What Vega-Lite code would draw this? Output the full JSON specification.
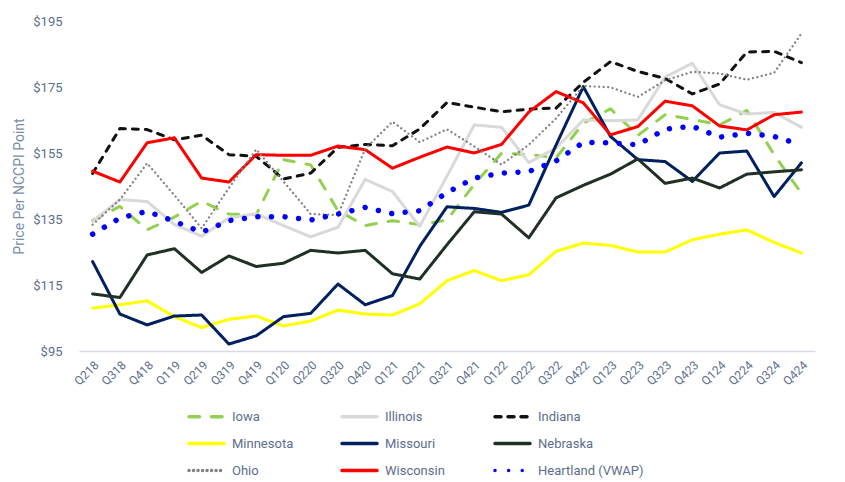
{
  "$schema": "https://vega.github.io/schema/vega-lite/v6.json",
  "width": 736,
  "height": 330,
  "autosize": {"type": "none"},
  "padding": {"left": 79, "top": 21, "right": 30, "bottom": 131},
  "background": "white",
  "config": {"view": {"stroke": null}, "font": "Roboto"},
  "data": {
    "values": [
      {"quarter": "Q218", "state": "Iowa", "price": 134.6},
      {"quarter": "Q318", "state": "Iowa", "price": 138.8},
      {"quarter": "Q418", "state": "Iowa", "price": 131.7},
      {"quarter": "Q119", "state": "Iowa", "price": 135.6},
      {"quarter": "Q219", "state": "Iowa", "price": 140.4},
      {"quarter": "Q319", "state": "Iowa", "price": 136.5},
      {"quarter": "Q419", "state": "Iowa", "price": 136.3},
      {"quarter": "Q120", "state": "Iowa", "price": 153},
      {"quarter": "Q220", "state": "Iowa", "price": 151.4},
      {"quarter": "Q320", "state": "Iowa", "price": 137.5},
      {"quarter": "Q420", "state": "Iowa", "price": 133},
      {"quarter": "Q121", "state": "Iowa", "price": 134.5},
      {"quarter": "Q221", "state": "Iowa", "price": 133.3},
      {"quarter": "Q321", "state": "Iowa", "price": 134.7},
      {"quarter": "Q421", "state": "Iowa", "price": 145.5},
      {"quarter": "Q122", "state": "Iowa", "price": 154.9},
      {"quarter": "Q222", "state": "Iowa", "price": 154.6},
      {"quarter": "Q322", "state": "Iowa", "price": 153.5},
      {"quarter": "Q422", "state": "Iowa", "price": 164},
      {"quarter": "Q123", "state": "Iowa", "price": 168.4},
      {"quarter": "Q223", "state": "Iowa", "price": 160.3},
      {"quarter": "Q323", "state": "Iowa", "price": 166.6},
      {"quarter": "Q423", "state": "Iowa", "price": 165.2},
      {"quarter": "Q124", "state": "Iowa", "price": 163.5},
      {"quarter": "Q224", "state": "Iowa", "price": 167.9},
      {"quarter": "Q324", "state": "Iowa", "price": 154.5},
      {"quarter": "Q424", "state": "Iowa", "price": 142.8},

      {"quarter": "Q218", "state": "Illinois", "price": 134.3},
      {"quarter": "Q318", "state": "Illinois", "price": 140.9},
      {"quarter": "Q418", "state": "Illinois", "price": 140.3},
      {"quarter": "Q119", "state": "Illinois", "price": 133.3},
      {"quarter": "Q219", "state": "Illinois", "price": 129.8},
      {"quarter": "Q319", "state": "Illinois", "price": 135.3},
      {"quarter": "Q419", "state": "Illinois", "price": 136.6},
      {"quarter": "Q120", "state": "Illinois", "price": 133},
      {"quarter": "Q220", "state": "Illinois", "price": 129.6},
      {"quarter": "Q320", "state": "Illinois", "price": 132.5},
      {"quarter": "Q420", "state": "Illinois", "price": 147},
      {"quarter": "Q121", "state": "Illinois", "price": 143.3},
      {"quarter": "Q221", "state": "Illinois", "price": 132.8},
      {"quarter": "Q321", "state": "Illinois", "price": 148},
      {"quarter": "Q421", "state": "Illinois", "price": 163.5},
      {"quarter": "Q122", "state": "Illinois", "price": 162.8},
      {"quarter": "Q222", "state": "Illinois", "price": 152.1},
      {"quarter": "Q322", "state": "Illinois", "price": 156.5},
      {"quarter": "Q422", "state": "Illinois", "price": 165},
      {"quarter": "Q123", "state": "Illinois", "price": 164.8},
      {"quarter": "Q223", "state": "Illinois", "price": 165},
      {"quarter": "Q323", "state": "Illinois", "price": 178},
      {"quarter": "Q423", "state": "Illinois", "price": 182.2},
      {"quarter": "Q124", "state": "Illinois", "price": 169.6},
      {"quarter": "Q224", "state": "Illinois", "price": 166.8},
      {"quarter": "Q324", "state": "Illinois", "price": 167.3},
      {"quarter": "Q424", "state": "Illinois", "price": 162.8},

      {"quarter": "Q218", "state": "Indiana", "price": 148.8},
      {"quarter": "Q318", "state": "Indiana", "price": 162.4},
      {"quarter": "Q418", "state": "Indiana", "price": 162.1},
      {"quarter": "Q119", "state": "Indiana", "price": 159},
      {"quarter": "Q219", "state": "Indiana", "price": 160.4},
      {"quarter": "Q319", "state": "Indiana", "price": 154.5},
      {"quarter": "Q419", "state": "Indiana", "price": 154},
      {"quarter": "Q120", "state": "Indiana", "price": 147.1},
      {"quarter": "Q220", "state": "Indiana", "price": 148.9},
      {"quarter": "Q320", "state": "Indiana", "price": 156.7},
      {"quarter": "Q420", "state": "Indiana", "price": 157.6},
      {"quarter": "Q121", "state": "Indiana", "price": 157.2},
      {"quarter": "Q221", "state": "Indiana", "price": 162.3},
      {"quarter": "Q321", "state": "Indiana", "price": 170.3},
      {"quarter": "Q421", "state": "Indiana", "price": 168.9},
      {"quarter": "Q122", "state": "Indiana", "price": 167.5},
      {"quarter": "Q222", "state": "Indiana", "price": 168.3},
      {"quarter": "Q322", "state": "Indiana", "price": 168.6},
      {"quarter": "Q422", "state": "Indiana", "price": 176.4},
      {"quarter": "Q123", "state": "Indiana", "price": 182.7},
      {"quarter": "Q223", "state": "Indiana", "price": 179.7},
      {"quarter": "Q323", "state": "Indiana", "price": 177.6},
      {"quarter": "Q423", "state": "Indiana", "price": 172.9},
      {"quarter": "Q124", "state": "Indiana", "price": 175.9},
      {"quarter": "Q224", "state": "Indiana", "price": 185.6},
      {"quarter": "Q324", "state": "Indiana", "price": 185.8},
      {"quarter": "Q424", "state": "Indiana", "price": 182.4},

      {"quarter": "Q218", "state": "Minnesota", "price": 108},
      {"quarter": "Q318", "state": "Minnesota", "price": 109},
      {"quarter": "Q418", "state": "Minnesota", "price": 110.2},
      {"quarter": "Q119", "state": "Minnesota", "price": 105.4},
      {"quarter": "Q219", "state": "Minnesota", "price": 102.1},
      {"quarter": "Q319", "state": "Minnesota", "price": 104.6},
      {"quarter": "Q419", "state": "Minnesota", "price": 105.6},
      {"quarter": "Q120", "state": "Minnesota", "price": 102.6},
      {"quarter": "Q220", "state": "Minnesota", "price": 104.1},
      {"quarter": "Q320", "state": "Minnesota", "price": 107.4},
      {"quarter": "Q420", "state": "Minnesota", "price": 106.2},
      {"quarter": "Q121", "state": "Minnesota", "price": 105.9},
      {"quarter": "Q221", "state": "Minnesota", "price": 109.3},
      {"quarter": "Q321", "state": "Minnesota", "price": 116.3},
      {"quarter": "Q421", "state": "Minnesota", "price": 119.4},
      {"quarter": "Q122", "state": "Minnesota", "price": 116.3},
      {"quarter": "Q222", "state": "Minnesota", "price": 118.1},
      {"quarter": "Q322", "state": "Minnesota", "price": 125.2},
      {"quarter": "Q422", "state": "Minnesota", "price": 127.7},
      {"quarter": "Q123", "state": "Minnesota", "price": 127},
      {"quarter": "Q223", "state": "Minnesota", "price": 125},
      {"quarter": "Q323", "state": "Minnesota", "price": 125},
      {"quarter": "Q423", "state": "Minnesota", "price": 128.7},
      {"quarter": "Q124", "state": "Minnesota", "price": 130.4},
      {"quarter": "Q224", "state": "Minnesota", "price": 131.7},
      {"quarter": "Q324", "state": "Minnesota", "price": 127.9},
      {"quarter": "Q424", "state": "Minnesota", "price": 124.7},

      {"quarter": "Q218", "state": "Missouri", "price": 122.1},
      {"quarter": "Q318", "state": "Missouri", "price": 106.2},
      {"quarter": "Q418", "state": "Missouri", "price": 102.9},
      {"quarter": "Q119", "state": "Missouri", "price": 105.6},
      {"quarter": "Q219", "state": "Missouri", "price": 105.9},
      {"quarter": "Q319", "state": "Missouri", "price": 97.1},
      {"quarter": "Q419", "state": "Missouri", "price": 99.6},
      {"quarter": "Q120", "state": "Missouri", "price": 105.4},
      {"quarter": "Q220", "state": "Missouri", "price": 106.4},
      {"quarter": "Q320", "state": "Missouri", "price": 115.3},
      {"quarter": "Q420", "state": "Missouri", "price": 109},
      {"quarter": "Q121", "state": "Missouri", "price": 111.8},
      {"quarter": "Q221", "state": "Missouri", "price": 126.7},
      {"quarter": "Q321", "state": "Missouri", "price": 138.7},
      {"quarter": "Q421", "state": "Missouri", "price": 138.2},
      {"quarter": "Q122", "state": "Missouri", "price": 137},
      {"quarter": "Q222", "state": "Missouri", "price": 139.2},
      {"quarter": "Q322", "state": "Missouri", "price": 157.4},
      {"quarter": "Q422", "state": "Missouri", "price": 175.1},
      {"quarter": "Q123", "state": "Missouri", "price": 160},
      {"quarter": "Q223", "state": "Missouri", "price": 153},
      {"quarter": "Q323", "state": "Missouri", "price": 152.4},
      {"quarter": "Q423", "state": "Missouri", "price": 146.4},
      {"quarter": "Q124", "state": "Missouri", "price": 155},
      {"quarter": "Q224", "state": "Missouri", "price": 155.6},
      {"quarter": "Q324", "state": "Missouri", "price": 141.8},
      {"quarter": "Q424", "state": "Missouri", "price": 152},

      {"quarter": "Q218", "state": "Nebraska", "price": 112.3},
      {"quarter": "Q318", "state": "Nebraska", "price": 111.2},
      {"quarter": "Q418", "state": "Nebraska", "price": 124.1},
      {"quarter": "Q119", "state": "Nebraska", "price": 126},
      {"quarter": "Q219", "state": "Nebraska", "price": 118.8},
      {"quarter": "Q319", "state": "Nebraska", "price": 123.8},
      {"quarter": "Q419", "state": "Nebraska", "price": 120.6},
      {"quarter": "Q120", "state": "Nebraska", "price": 121.6},
      {"quarter": "Q220", "state": "Nebraska", "price": 125.5},
      {"quarter": "Q320", "state": "Nebraska", "price": 124.7},
      {"quarter": "Q420", "state": "Nebraska", "price": 125.5},
      {"quarter": "Q121", "state": "Nebraska", "price": 118.4},
      {"quarter": "Q221", "state": "Nebraska", "price": 116.8},
      {"quarter": "Q321", "state": "Nebraska", "price": 127.2},
      {"quarter": "Q421", "state": "Nebraska", "price": 137.2},
      {"quarter": "Q122", "state": "Nebraska", "price": 136.5},
      {"quarter": "Q222", "state": "Nebraska", "price": 129.3},
      {"quarter": "Q322", "state": "Nebraska", "price": 141.4},
      {"quarter": "Q422", "state": "Nebraska", "price": 145.2},
      {"quarter": "Q123", "state": "Nebraska", "price": 148.6},
      {"quarter": "Q223", "state": "Nebraska", "price": 153.2},
      {"quarter": "Q323", "state": "Nebraska", "price": 145.8},
      {"quarter": "Q423", "state": "Nebraska", "price": 147.4},
      {"quarter": "Q124", "state": "Nebraska", "price": 144.4},
      {"quarter": "Q224", "state": "Nebraska", "price": 148.6},
      {"quarter": "Q324", "state": "Nebraska", "price": 149.3},
      {"quarter": "Q424", "state": "Nebraska", "price": 149.9},

      {"quarter": "Q218", "state": "Ohio", "price": 133.3},
      {"quarter": "Q318", "state": "Ohio", "price": 140.9},
      {"quarter": "Q418", "state": "Ohio", "price": 151.9},
      {"quarter": "Q119", "state": "Ohio", "price": 142.2},
      {"quarter": "Q219", "state": "Ohio", "price": 132.2},
      {"quarter": "Q319", "state": "Ohio", "price": 144.4},
      {"quarter": "Q419", "state": "Ohio", "price": 156.1},
      {"quarter": "Q120", "state": "Ohio", "price": 146.4},
      {"quarter": "Q220", "state": "Ohio", "price": 136.5},
      {"quarter": "Q320", "state": "Ohio", "price": 136.2},
      {"quarter": "Q420", "state": "Ohio", "price": 156.3},
      {"quarter": "Q121", "state": "Ohio", "price": 164.5},
      {"quarter": "Q221", "state": "Ohio", "price": 158.3},
      {"quarter": "Q321", "state": "Ohio", "price": 162.2},
      {"quarter": "Q421", "state": "Ohio", "price": 157},
      {"quarter": "Q122", "state": "Ohio", "price": 151.5},
      {"quarter": "Q222", "state": "Ohio", "price": 157.5},
      {"quarter": "Q322", "state": "Ohio", "price": 165.5},
      {"quarter": "Q422", "state": "Ohio", "price": 175.3},
      {"quarter": "Q123", "state": "Ohio", "price": 174.9},
      {"quarter": "Q223", "state": "Ohio", "price": 172},
      {"quarter": "Q323", "state": "Ohio", "price": 177},
      {"quarter": "Q423", "state": "Ohio", "price": 179.6},
      {"quarter": "Q124", "state": "Ohio", "price": 179.1},
      {"quarter": "Q224", "state": "Ohio", "price": 177.2},
      {"quarter": "Q324", "state": "Ohio", "price": 179.3},
      {"quarter": "Q424", "state": "Ohio", "price": 191.2},

      {"quarter": "Q218", "state": "Wisconsin", "price": 149.5},
      {"quarter": "Q318", "state": "Wisconsin", "price": 146.2},
      {"quarter": "Q418", "state": "Wisconsin", "price": 158.1},
      {"quarter": "Q119", "state": "Wisconsin", "price": 159.6},
      {"quarter": "Q219", "state": "Wisconsin", "price": 147.4},
      {"quarter": "Q319", "state": "Wisconsin", "price": 146.2},
      {"quarter": "Q419", "state": "Wisconsin", "price": 154.5},
      {"quarter": "Q120", "state": "Wisconsin", "price": 154.3},
      {"quarter": "Q220", "state": "Wisconsin", "price": 154.3},
      {"quarter": "Q320", "state": "Wisconsin", "price": 157.1},
      {"quarter": "Q420", "state": "Wisconsin", "price": 156},
      {"quarter": "Q121", "state": "Wisconsin", "price": 150.4},
      {"quarter": "Q221", "state": "Wisconsin", "price": 153.7},
      {"quarter": "Q321", "state": "Wisconsin", "price": 156.8},
      {"quarter": "Q421", "state": "Wisconsin", "price": 155},
      {"quarter": "Q122", "state": "Wisconsin", "price": 157.6},
      {"quarter": "Q222", "state": "Wisconsin", "price": 167.4},
      {"quarter": "Q322", "state": "Wisconsin", "price": 173.6},
      {"quarter": "Q422", "state": "Wisconsin", "price": 170.2},
      {"quarter": "Q123", "state": "Wisconsin", "price": 160.5},
      {"quarter": "Q223", "state": "Wisconsin", "price": 163},
      {"quarter": "Q323", "state": "Wisconsin", "price": 170.7},
      {"quarter": "Q423", "state": "Wisconsin", "price": 169.3},
      {"quarter": "Q124", "state": "Wisconsin", "price": 163.2},
      {"quarter": "Q224", "state": "Wisconsin", "price": 162},
      {"quarter": "Q324", "state": "Wisconsin", "price": 166.6},
      {"quarter": "Q424", "state": "Wisconsin", "price": 167.4},

      {"quarter": "Q218", "state": "Heartland (VWAP)", "price": 130.4},
      {"quarter": "Q318", "state": "Heartland (VWAP)", "price": 135.3},
      {"quarter": "Q418", "state": "Heartland (VWAP)", "price": 137.3},
      {"quarter": "Q119", "state": "Heartland (VWAP)", "price": 134.3},
      {"quarter": "Q219", "state": "Heartland (VWAP)", "price": 131},
      {"quarter": "Q319", "state": "Heartland (VWAP)", "price": 134.5},
      {"quarter": "Q419", "state": "Heartland (VWAP)", "price": 135.7},
      {"quarter": "Q120", "state": "Heartland (VWAP)", "price": 135.7},
      {"quarter": "Q220", "state": "Heartland (VWAP)", "price": 134.7},
      {"quarter": "Q320", "state": "Heartland (VWAP)", "price": 136.5},
      {"quarter": "Q420", "state": "Heartland (VWAP)", "price": 138.5},
      {"quarter": "Q121", "state": "Heartland (VWAP)", "price": 136.6},
      {"quarter": "Q221", "state": "Heartland (VWAP)", "price": 137.5},
      {"quarter": "Q321", "state": "Heartland (VWAP)", "price": 143},
      {"quarter": "Q421", "state": "Heartland (VWAP)", "price": 147.4},
      {"quarter": "Q122", "state": "Heartland (VWAP)", "price": 148.9},
      {"quarter": "Q222", "state": "Heartland (VWAP)", "price": 149.4},
      {"quarter": "Q322", "state": "Heartland (VWAP)", "price": 152.6},
      {"quarter": "Q422", "state": "Heartland (VWAP)", "price": 158.2},
      {"quarter": "Q123", "state": "Heartland (VWAP)", "price": 158.1},
      {"quarter": "Q223", "state": "Heartland (VWAP)", "price": 157.5},
      {"quarter": "Q323", "state": "Heartland (VWAP)", "price": 162.2},
      {"quarter": "Q423", "state": "Heartland (VWAP)", "price": 163.1},
      {"quarter": "Q124", "state": "Heartland (VWAP)", "price": 159.8},
      {"quarter": "Q224", "state": "Heartland (VWAP)", "price": 161},
      {"quarter": "Q324", "state": "Heartland (VWAP)", "price": 160},
      {"quarter": "Q424", "state": "Heartland (VWAP)", "price": 157.5}
    ]
  },
  "encoding": {
    "x": {
      "field": "quarter",
      "type": "ordinal",
      "scale": {
        "domain": ["Q218", "Q318", "Q418", "Q119", "Q219", "Q319", "Q419", "Q120", "Q220", "Q320", "Q420", "Q121", "Q221", "Q321", "Q421", "Q122", "Q222", "Q322", "Q422", "Q123", "Q223", "Q323", "Q423", "Q124", "Q224", "Q324", "Q424"],
        "padding": 0.5
      },
      "axis": {
        "title": null,
        "labelAngle": -45,
        "labelFont": "Roboto",
        "labelFontSize": 12,
        "labelColor": "#5b6e8c",
        "labelPadding": 8,
        "ticks": false,
        "grid": false,
        "domainColor": "#d9dae3",
        "domainWidth": 1.5
      }
    },
    "y": {
      "field": "price",
      "type": "quantitative",
      "scale": {"domain": [95, 195], "nice": false, "zero": false},
      "axis": {
        "values": [95, 115, 135, 155, 175, 195],
        "labelExpr": "'$' + datum.value",
        "grid": false,
        "domain": false,
        "ticks": false,
        "labelFont": "Roboto",
        "labelFontSize": 13,
        "labelColor": "#5b6e8c",
        "labelPadding": 17,
        "title": "Price Per NCCPI Point",
        "titleFont": "Roboto",
        "titleFontSize": 14,
        "titleFontWeight": "normal",
        "titleColor": "#7a8ea8",
        "titlePadding": 6
      }
    },
    "color": {
      "field": "state",
      "type": "nominal",
      "scale": {
        "domain": ["Iowa", "Illinois", "Indiana", "Minnesota", "Missouri", "Nebraska", "Ohio", "Wisconsin", "Heartland (VWAP)"],
        "range": ["#92d050", "#d9d9d9", "#111111", "#ffff00", "#002060", "#1f3024", "#808080", "#ff0000", "#0000ff"]
      },
      "legend": {
        "title": null,
        "orient": "none",
        "direction": "horizontal",
        "legendX": 108,
        "legendY": 376,
        "columns": 3,
        "gridAlign": "all",
        "columnPadding": -3,
        "rowPadding": -10,
        "padding": 0,
        "labelFont": "Roboto",
        "labelFontSize": 13,
        "labelColor": "#5b6e8c",
        "labelOffset": 6,
        "symbolType": "stroke",
        "symbolSize": 1225,
        "symbolStrokeWidth": 3.5,
        "encoding": {"symbols": {"strokeCap": {"value": "round"}}}
      }
    },
    "strokeDash": {
      "field": "state",
      "type": "nominal",
      "scale": {
        "domain": ["Iowa", "Illinois", "Indiana", "Minnesota", "Missouri", "Nebraska", "Ohio", "Wisconsin", "Heartland (VWAP)"],
        "range": [[10.5, 12], [1, 0], [6, 7], [1, 0], [1, 0], [1, 0], [0.01, 4.5], [1, 0], [0.01, 13.6]]
      }
    }
  },
  "layer": [
    {
      "transform": [{"filter": "datum.state !== 'Ohio' && datum.state !== 'Heartland (VWAP)'"}],
      "mark": {"type": "line", "strokeCap": "round", "strokeJoin": "round", "strokeWidth": 3}
    },
    {
      "transform": [{"filter": "datum.state === 'Ohio'"}],
      "mark": {"type": "line", "strokeCap": "round", "strokeJoin": "round", "strokeWidth": 2.3}
    },
    {
      "transform": [{"filter": "datum.state === 'Heartland (VWAP)'"}],
      "mark": {"type": "line", "strokeCap": "round", "strokeJoin": "round", "strokeWidth": 5.5}
    }
  ]
}
